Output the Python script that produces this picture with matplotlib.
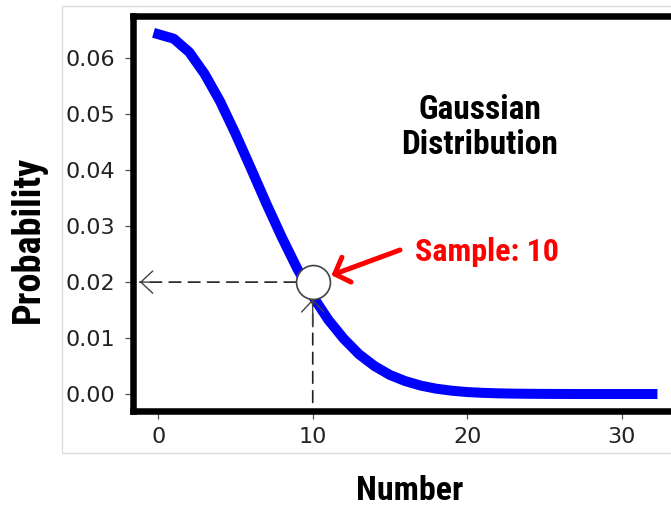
import matplotlib
matplotlib.use("Agg")
import os
import matplotlib.pyplot as plt
from matplotlib import font_manager
from matplotlib.font_manager import FontProperties
from matplotlib.patches import Rectangle

# Probability of each number (half-Gaussian centred on 0)
numbers = list(range(0, 33))
probability = [0.0643, 0.0635, 0.0611, 0.0572, 0.0523, 0.0465, 0.0403, 0.0340,
               0.0280, 0.0224, 0.0175, 0.0133, 0.0099, 0.0071, 0.0050, 0.0034,
               0.0023, 0.0015, 0.00095, 0.00059, 0.00035, 0.00021, 0.00012,
               0.00007, 0.00004, 0.00002, 0.00001, 0.0, 0.0, 0.0, 0.0, 0.0, 0.0]

x_ticks = [0, 10, 20, 30]
y_ticks = [0.00, 0.01, 0.02, 0.03, 0.04, 0.05, 0.06]

sample_number = 10
sample_prob = 0.02
sample_label = "Sample: 10"
title_text = "Gaussian\nDistribution"


def narrow_bold_font():
    """Pick a bold narrow/condensed face if one is installed."""
    files = [f.fname for f in font_manager.fontManager.ttflist]
    prefs = [("liberationsansnarrow", "bold"), ("robotocondensed", "bold"),
             ("opensanscondensed", "bold"), ("dejavusanscondensed", "bold"),
             ("condensed", "bold"), ("narrow", "bold")]
    for key, wt in prefs:
        for path in files:
            base = os.path.basename(path).lower().replace("-", "").replace("_", "")
            if key in base and wt in base and "italic" not in base and "oblique" not in base:
                return FontProperties(fname=path), True
    return FontProperties(family="Liberation Sans", weight="bold"), False


label_font, is_narrow = narrow_bold_font()

fig = plt.figure(figsize=(6.71, 5.08), dpi=100)

# light frame around the plot image
fig.patches.append(Rectangle((62 / 671, 1 - 453 / 508), 1.0, (453 - 6) / 508,
                             transform=fig.transFigure, fill=False,
                             edgecolor="#dddddd", linewidth=1.0, zorder=0))

ax = fig.add_axes([133 / 671, (508 - 411.3) / 508, 567 / 671, (411.3 - 16) / 508])
ax.set_xlim(-1.64, 35.08)
ax.set_ylim(-0.00309, 0.06756)

ax.plot(numbers, probability, color="#0000ff", linewidth=7.2,
        solid_capstyle="projecting", solid_joinstyle="round", zorder=3)

marker_pts = 12.2
ax.plot([sample_number], [sample_prob], marker="o", markersize=2 * marker_pts,
        markerfacecolor="white", markeredgecolor="#444444", markeredgewidth=1.2,
        linestyle="none", zorder=5)

dash_style = (0, (7, 4.5))
head = "->,head_length=0.86,head_width=0.8"

# horizontal guide to the y axis
ax.annotate("", xy=(-1.2, sample_prob), xytext=(sample_number, sample_prob),
            arrowprops=dict(arrowstyle="-", color="#222222", lw=1.2,
                            linestyle=dash_style, shrinkA=marker_pts, shrinkB=0),
            zorder=4)
ax.annotate("", xy=(-1.2, sample_prob), xytext=(-0.6, sample_prob),
            arrowprops=dict(arrowstyle=head, mutation_scale=10, color="#444444",
                            lw=1.0, shrinkA=0, shrinkB=0), zorder=4)

# vertical guide from the x axis
ax.annotate("", xy=(sample_number, sample_prob), xytext=(sample_number, -0.0015),
            arrowprops=dict(arrowstyle="-", color="#222222", lw=1.2,
                            linestyle=dash_style, shrinkA=0, shrinkB=marker_pts),
            zorder=4)
ax.annotate("", xy=(sample_number, sample_prob), xytext=(sample_number, 0.012),
            arrowprops=dict(arrowstyle=head, mutation_scale=10, color="#444444",
                            lw=1.0, shrinkA=0, shrinkB=marker_pts), zorder=4)

# red pointer to the sample
ax.annotate("", xy=(sample_number, sample_prob), xytext=(15.65, 0.02574),
            arrowprops=dict(arrowstyle="->,head_length=0.9,head_width=0.95",
                            mutation_scale=10, color="#ff0000", lw=3.6,
                            shrinkA=0, shrinkB=14.4, capstyle="round"),
            zorder=6)

scale = 1.0 if is_narrow else 0.82
ax.text(16.62, 0.02382, sample_label, color="#ff0000", fontproperties=label_font,
        fontsize=23 * scale, ha="left", va="baseline")
ax.text(20.83, 0.0476, title_text, color="black", fontproperties=label_font,
        fontsize=24 * scale, ha="center", va="center", linespacing=1.1)

ax.set_xticks(x_ticks)
ax.set_yticks(y_ticks)
ax.set_yticklabels([f"{v:.2f}" for v in y_ticks])
ax.tick_params(axis="both", direction="out", length=6, width=0.9, color="#555555",
               labelsize=16, labelcolor="#222222")
ax.tick_params(axis="y", pad=7)
ax.tick_params(axis="x", pad=5)

for side in ("left", "top", "bottom"):
    ax.spines[side].set_linewidth(4.7)
    ax.spines[side].set_color("black")
ax.spines["right"].set_visible(False)

fig.text(28 / 671, 1 - 239 / 508, "Probability", rotation=90,
         fontproperties=label_font, fontsize=27.5 * scale, ha="center", va="center")
fig.text(410 / 671, 1 - 491 / 508, "Number", fontproperties=label_font,
         fontsize=24.5 * scale, ha="center", va="center")

fig.savefig("out.png", dpi=100)
